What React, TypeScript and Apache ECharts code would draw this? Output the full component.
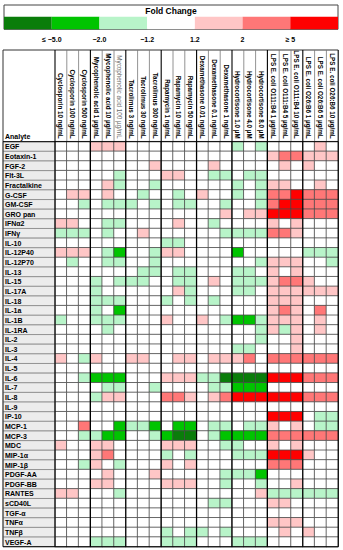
import React, { useEffect, useRef } from 'react';
import * as echarts from 'echarts';

const analytes = ['EGF','Eotaxin-1','FGF-2','Flt-3L','Fractalkine','G-CSF','GM-CSF','GRO pan','IFNα2','IFNγ','IL-10','IL-12P40','IL-12P70','IL-13','IL-15','IL-17A','IL-18','IL-1a','IL-1B','IL-1RA','IL-2','IL-3','IL-4','IL-5','IL-6','IL-7','IL-8','IL-9','IP-10','MCP-1','MCP-3','MDC','MIP-1α','MIP-1β','PDGF-AA','PDGF-BB','RANTES','sCD40L','TGF-α','TNFα','TNFβ','VEGF-A'];

const treatments = ['Cyclosporin 10 ng/mL','Cyclosporin 100 ng/mL','Cyclosporin 500 ng/mL','Mycophenolic acid 1 µg/mL','Mycophenolic acid 10 µg/mL','Mycophenolic acid 100 µg/mL','Tacrolimus 3 ng/mL','Tacrolimus 30 ng/mL','Tacrolimus 300 ng/mL','Rapamycin 1 ng/mL','Rapamycin 10 ng/mL','Rapamycin 50 ng/mL','Dexamethasone 0.01 ng/mL','Dexamethasone 0.1 ng/mL','Dexamethasone 1 ng/mL','Hydrocortisone 1.0 µM','Hydrocortisone 4.0 µM','Hydrocortisone 8.0 µM','LPS E. coli O111:B4 1 µg/mL','LPS E. coli O111:B4 5 µg/mL','LPS E. coli O111:B4 10 µg/mL','LPS E. coli O26:B6 1 µg/mL','LPS E. coli O26:B6 5 µg/mL','LPS E. coli O26:B6 10 µg/mL'];

const legendLabels = ['≤ −5.0', '−2.0', '−1.2', '1.2', '2', '≥ 5'];
const legendColors = ['#0a7d0a', '#00c400', '#b8f4c9', '#ffffff', '#ffc6c6', '#ff7777', '#ff0000'];
const foldBreaks = [-5, -2, -1.2, 1.2, 2, 5];

// fold change per analyte, one value per treatment (column order as treatments)
const fcEGF       = [1,1,1,1.5,1.5,1.5, 1,1,1, 1,1,1, 1,1,1, -1.5,1,-1.5, 1,1,1, 1,1.5,1];
const fcEotaxin1  = [1,1,1,1,1,1, 1,1,1, 1,1,1, 1,1,1, 1,1,1, 1.5,3,3, 1.5,1.5,1.5];
const fcFGF2      = [1,1,1,1,1,1, 1,1,1.5, 1,1,1, 1,1.5,1, 1,1,1, 1,1.5,1, 1.5,1,1];
const fcFlt3L     = [1,1,1,1,1,-1.5, 1,1,1, 1.5,1.5,1, 1,-1.5,-1.5, 1,-1.5,-1.5, 1,1,1, 1,1,1];
const fcFractalk  = [1,1,1,1,1.5,-1.5, 1,1,-1.5, 1,1,1, 1,1,1, -1.5,1,-1.5, 1.5,1.5,1, 1,1.5,1];
const fcGCSF      = [1,1.5,1.5,1,1.5,1, 1,-1.5,1, 1,-1.5,1, 1.5,1,1, -1.5,1,-1.5, 3,3,6, 3,3,3];
const fcGMCSF     = [1,1,-1.5,1,-1.5,-1.5, -1.5,1,-1.5, 1,-1.5,-1.5, 1,1,-1.5, 1,1,-1.5, 3,6,6, 3,3,3];
const fcGROpan    = [1,1,1,1,1,1, 1,1,1, 1,1,1, 1,1,1.5, 1,1.5,1.5, 6,6,6, 3,3,3];
const fcIFNa2     = [1.5,1.5,1,1,-1.5,-1.5, 1,1,1, 1,1.5,1, 1,-1.5,1, 1,1,1, 1.5,1,1.5, 1,1,1];
const fcIFNg      = [-1.5,-1.5,-1.5,1,-1.5,1, 1,1.5,1, 1,1,1, 1,1,-1.5, -1.5,-1.5,-1.5, 3,3,1.5, 1,1,1];
const fcIL10      = [1,1,1,1,1,1, 1,1,1, -1.5,-1.5,1, 1,1,1, 1,1,1, 1,1,1, 1,1,1];
const fcIL12P40   = [1.5,1.5,1.5,1,-1.5,-3, 1,1,-1.5, 1.5,1.5,1, 1,1,1, -3,1,1, 1,1,1, -1.5,-1.5,-1.5];
const fcIL12P70   = [1,-1.5,1,1,-1.5,-1.5, 1,1,-1.5, 1,1,1, 1,1,1, 1,1,-1.5, 1.5,1.5,1.5, 1,1,-1.5];
const fcIL13      = [1,1,1,1,1,1, 1,-1.5,-1.5, 1,-1.5,-1.5, 1,1,1, -1.5,-1.5,1, 1.5,1,1.5, 1,1,1];
const fcIL15      = [1,1,1,-1.5,1,-1.5, -1.5,-1.5,1, 1,-1.5,-1.5, 1,1.5,1, -1.5,-1.5,-1.5, 1.5,3,3, 1.5,1,1];
const fcIL17A     = [1,1,1,-1.5,1,1, 1,1,1, 1,1.5,-1.5, 1,1,1, -1.5,-1.5,1, 1.5,1.5,1.5, 1.5,1.5,1.5];
const fcIL18      = [1,1,1,-1.5,-1.5,-1.5, 1,1,1, -1.5,1,-1.5, 1,-1.5,1, 1,1,1, 1.5,1.5,1.5, 1,1,1];
const fcIL1a      = [1,1,1,-1.5,1,-3, 1,1,1, 1,1,1, 1,1,1, 1,1,1, 1.5,3,1.5, 1,3,1];
const fcIL1B      = [-1.5,1,1,-1.5,-1.5,-1.5, 1,1,1, 1.5,1,1, 1.5,1,-1.5, -3,-3,-1.5, 1.5,1.5,1.5, 1,1.5,1];
const fcIL1RA     = [1,1,1,1,-1.5,1, 1,1,1, 1,1,1, 1,1,1, 1,1,-1.5, 1.5,-1.5,1.5, 1,1.5,1];
const fcIL2       = [1,1,1,1,1,1, 1,1,1, 1,1,1, 1,1,1, 1,1,-1.5, 1,1,1.5, 1,1,1];
const fcIL3       = [1,1,1,1,1,1, 1,1,1, 1,1,1, 1,1,1, -1.5,-1.5,1, 1,1,1.5, 1,1,1];
const fcIL4       = [1.5,1,-1.5,1.5,1,1, 1.5,1.5,1, 1,1.5,1.5, 1,1.5,1.5, 1.5,3,1, 3,3,3, 3,3,3];
const fcIL5       = [1,1,1,1,1,1, 1,1,1, 1,1,1, 1,1,1, 1,1,1, 1,1,1, 1,1,1];
const fcIL6       = [1,1,-1.5,-3,-3,-3, 1,1,1, 1.5,1.5,1.5, -1.5,-1.5,-6, -6,-6,-6, 6,6,6, 3,3,3];
const fcIL7       = [1,1,1,1,-1.5,-1.5, 1,1,-1.5, 1,1,1, 1,-1.5,-1.5, -3,-3,-3, 1,1,1, 1,1,1];
const fcIL8       = [1,1,1,-1.5,1.5,1.5, 1,1,1, 3,3,1.5, 1,1.5,3, 6,6,6, 6,6,6, 3,3,3];
const fcIL9       = [1,1,1,1,1,1, 1,1,1, 1,1,1, 1,1,1, 1,1,1, 1,1,1, 1,1,1];
const fcIP10      = [1,1,1,1,1,1, 1,1,1, 1,1,1, 1,1,1, 1,1,1, 6,6,6, 1,-1.5,-1.5];
const fcMCP1      = [1,1,3,1,1,-3, -1.5,-1.5,-3, 1,-3,-3, 1,-1.5,-1.5, 1,-1.5,-1.5, 1.5,1,1.5, 1,-1.5,-1.5];
const fcMCP3      = [1,1,-1.5,-1.5,-3,-3, 1,1,-1.5, -3,-6,-6, 1,-1.5,-3, -3,-3,-3, 3,3,3, 3,3,3];
const fcMDC       = [1.5,1,1,1.5,1.5,1, 1,1,1, 1.5,1.5,1.5, 1,1,-1.5, -1.5,1,1, 1.5,1,1.5, 1,1,1];
const fcMIP1a     = [1,1,1,1.5,3,1, 1,1,1, -1.5,1,-1.5, 1,1,1, -1.5,-1.5,-1.5, 6,6,6, 1.5,1,1];
const fcMIP1b     = [1,1,-1.5,1.5,1,-1.5, 1,1,1, 1.5,1,1.5, 1,1,1, 1,1,1, 3,3,3, 1,1,1];
const fcPDGFAA    = [1,1,1,1,1.5,1, 1,1,1.5, 1,1,1, 1,1,-1.5, -1.5,-1.5,-3, 1,1,1, 1,1,1];
const fcPDGFBB    = [1,1,1,1.5,1.5,1, 1,1,1, 1.5,1.5,1.5, 1,1,-1.5, 1,1,-1.5, 1,1,1.5, 1,1,1];
const fcRANTES    = [1.5,1.5,1,1,1,-1.5, 1,1,1, 1,1,1, 1,1,1, 1,1,1.5, -1.5,-1.5,-1.5, -1.5,-1.5,-1.5];
const fcsCD40L    = [1,1,1,1,1,1, 1,1,1, 1,1,1, 1,-1.5,-1.5, 1,1,1, 1.5,1.5,1, 1,1,1];
const fcTGFa      = [1,1,1,1,1,1, 1,1,1, 1,1,1, 1,1,1, 1,1,1, 1,1,1, 1,1,1];
const fcTNFa      = [1,1,1,1,1,1, 1,1,1, 1,1,1, 1,1,1, 1,1,1, 1.5,1.5,1.5, 1,1,1];
const fcTNFb      = [1,1,1,1,1,1, 1,1,1, -1.5,1,-1.5, -1.5,1,-1.5, 1,1,1, 1,1.5,1, 1.5,1,1];
const fcVEGFA     = [1,1,1,-1.5,-1.5,-1.5, 1,1,1, -1.5,-1.5,-1.5, 1,1,1, -1.5,-1.5,-1.5, 1,1,1, 1,1,1];

const foldRows = [fcEGF, fcEotaxin1, fcFGF2, fcFlt3L, fcFractalk, fcGCSF, fcGMCSF, fcGROpan, fcIFNa2, fcIFNg, fcIL10, fcIL12P40, fcIL12P70, fcIL13, fcIL15, fcIL17A, fcIL18, fcIL1a, fcIL1B, fcIL1RA, fcIL2, fcIL3, fcIL4, fcIL5, fcIL6, fcIL7, fcIL8, fcIL9, fcIP10, fcMCP1, fcMCP3, fcMDC, fcMIP1a, fcMIP1b, fcPDGFAA, fcPDGFBB, fcRANTES, fcsCD40L, fcTGFa, fcTNFa, fcTNFb, fcVEGFA];

const FONT = '"Liberation Sans", Arial, sans-serif';

export default function App() {
  const ref = useRef<HTMLDivElement>(null);
  useEffect(() => {
    const chart = echarts.init(ref.current!, null, { renderer: 'svg' });
    const L = 55, T = 141.7, CW = 11.8, RH = 9.643;
    const NC = treatments.length, NR = analytes.length;
    const R = L + NC * CW, B = T + NR * RH;
    const HT = 50, LX = 3;

    const cells: number[][] = [];
    foldRows.forEach((row, r) => row.forEach((v, c) => cells.push([c, r, v])));

    const b = foldBreaks;
    const pieces = [
      { lte: b[0], color: legendColors[0] },
      { gt: b[0], lte: b[1], color: legendColors[1] },
      { gt: b[1], lte: b[2], color: legendColors[2] },
      { gt: b[2], lt: b[3], color: legendColors[3] },
      { gte: b[3], lt: b[4], color: legendColors[4] },
      { gte: b[4], lt: b[5], color: legendColors[5] },
      { gte: b[5], color: legendColors[6] },
    ];

    const g: any[] = [];
    // legend
    const lgX = 4, lgW = 334, segW = lgW / legendColors.length;
    g.push({ type: 'rect', z: 100, shape: { x: lgX, y: 5, width: lgW, height: 24.3 }, style: { fill: '#fff', stroke: '#444', lineWidth: 1 } });
    g.push({ type: 'text', z: 101, x: lgX + lgW / 2, y: 11, style: { text: 'Fold Change', fontFamily: FONT, fontWeight: 'bold', fontSize: 8.5, fill: '#000', align: 'center', verticalAlign: 'middle' } });
    legendColors.forEach((c, i) => {
      g.push({ type: 'rect', z: 101, shape: { x: lgX + i * segW, y: 16.7, width: segW, height: 12.6 }, style: { fill: c } });
    });
    legendLabels.forEach((t, i) => {
      g.push({ type: 'text', z: 101, x: lgX + (i + 1) * segW, y: 39, style: { text: t, fontFamily: FONT, fontWeight: 'bold', fontSize: 7, fill: '#000', align: 'center', verticalAlign: 'middle' } });
    });
    // header frame
    g.push({ type: 'line', z: 100, shape: { x1: LX, y1: HT, x2: R, y2: HT }, style: { stroke: '#333', lineWidth: 1 } });
    for (let c = 0; c <= NC; c++) {
      const x = L + c * CW;
      g.push({ type: 'line', z: 100, shape: { x1: x, y1: HT, x2: x, y2: T }, style: { stroke: c % 3 === 0 ? '#000' : '#777', lineWidth: c % 3 === 0 ? 1.1 : 0.8 } });
      if (c % 3 === 0) {
        g.push({ type: 'line', z: 110, shape: { x1: x, y1: T, x2: x, y2: B }, style: { stroke: '#000', lineWidth: 1.2 } });
      }
    }
    g.push({ type: 'line', z: 110, shape: { x1: LX, y1: HT, x2: LX, y2: B }, style: { stroke: '#333', lineWidth: 1 } });
    g.push({ type: 'line', z: 110, shape: { x1: LX, y1: T, x2: R, y2: T }, style: { stroke: '#000', lineWidth: 1 } });
    g.push({ type: 'line', z: 110, shape: { x1: LX, y1: B, x2: R, y2: B }, style: { stroke: '#000', lineWidth: 1 } });
    g.push({ type: 'text', z: 101, x: 5, y: T - 1.5, style: { text: 'Analyte', fontFamily: FONT, fontWeight: 'bold', fontSize: 7, fill: '#000', align: 'left', verticalAlign: 'bottom' } });

    const option: any = {
      animation: false,
      backgroundColor: '#fff',
      grid: [
        { left: L, top: T, width: NC * CW, height: NR * RH },
        { left: LX, top: T, width: L - LX, height: NR * RH },
      ],
      xAxis: [
        {
          type: 'category', gridIndex: 0, data: treatments, position: 'top',
          axisLine: { show: false }, axisTick: { show: false }, splitLine: { show: false },
          axisLabel: {
            interval: 0, rotate: 90, margin: 3,
            formatter: (v: string, i: number) => (i === 5 ? `{n|${v}}` : `{b|${v}}`),
            rich: {
              b: { fontFamily: FONT, fontSize: 6.3, fontWeight: 'bold', color: '#000' },
              n: { fontFamily: FONT, fontSize: 6.3, fontWeight: 'normal', color: '#666' },
            },
          },
        },
        { type: 'category', gridIndex: 1, data: ['Analyte'], show: false },
      ],
      yAxis: [
        { type: 'category', gridIndex: 0, data: analytes, inverse: true, show: false },
        { type: 'category', gridIndex: 1, data: analytes, inverse: true, show: false },
      ],
      visualMap: { type: 'piecewise', show: false, seriesIndex: 0, dimension: 2, pieces },
      series: [
        {
          type: 'heatmap', xAxisIndex: 0, yAxisIndex: 0, data: cells,
          itemStyle: { borderColor: '#4a4a4a', borderWidth: 0.8 },
          emphasis: { disabled: true },
        },
        {
          type: 'custom', xAxisIndex: 1, yAxisIndex: 1,
          data: analytes.map((_, i) => [0, i]),
          renderItem: (params: any, api: any) => {
            const p = api.coord([0, api.value(1)]);
            const s = api.size([1, 1]);
            return {
              type: 'group',
              children: [
                { type: 'rect', shape: { x: p[0] - s[0] / 2, y: p[1] - s[1] / 2, width: s[0], height: s[1] }, style: { fill: '#ececec', stroke: '#888', lineWidth: 0.8 } },
                { type: 'text', x: p[0] - s[0] / 2 + 2, y: p[1] + 0.3, style: { text: analytes[params.dataIndex], fontFamily: FONT, fontWeight: 'bold', fontSize: 7, fill: '#000', align: 'left', verticalAlign: 'middle' } },
              ],
            };
          },
        },
      ],
      graphic: g,
    };
    chart.setOption(option);
    return () => chart.dispose();
  }, []);
  return <div ref={ref} style={{ position: 'absolute', left: 0, top: 0, width: 343, height: 550, background: '#fff' }} />;
}
